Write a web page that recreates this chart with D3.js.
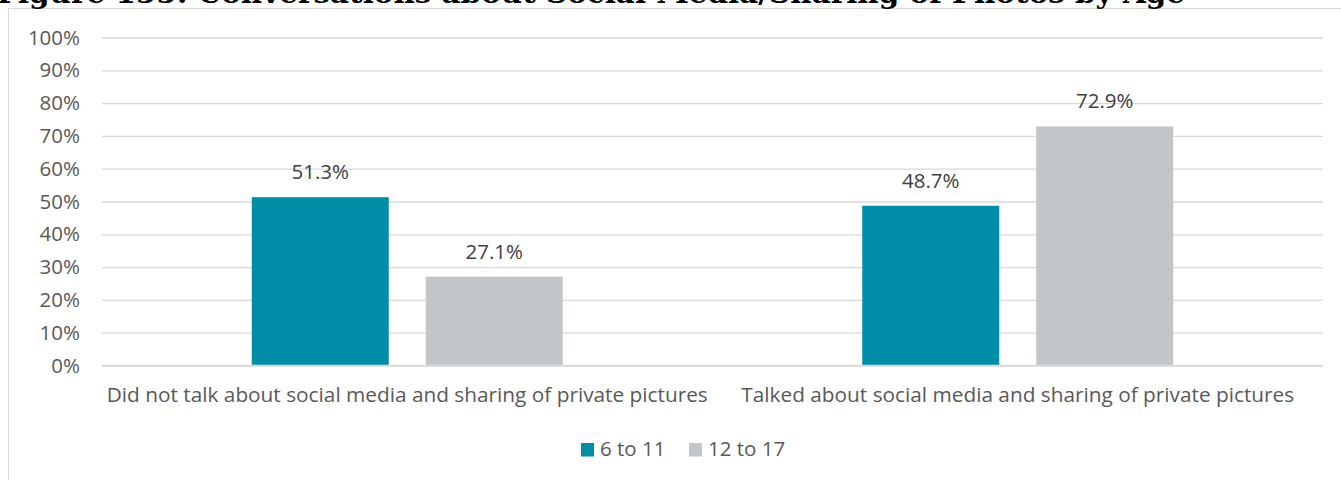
<!DOCTYPE html>
<html>
<head>
<meta charset="utf-8">
<script src="https://cdn.jsdelivr.net/npm/d3@7"></script>
<style>
  html, body { margin: 0; padding: 0; background: #ffffff; overflow: hidden; }
  svg { display: block; }
</style>
</head>
<body>
<svg id="chart" width="1341" height="480"></svg>
<script>
const titleText = "Figure 155: Conversations about Social Media/Sharing of Photos by Age";
const categories = [
  "Did not talk about social media and sharing of private pictures",
  "Talked about social media and sharing of private pictures"
];
const seriesNames = ["6 to 11", "12 to 17"];
const values6to11 = [51.3, 48.7];
const values12to17 = [27.1, 72.9];
const seriesColors = ["#008da8", "#c3c6c8"];
const yTicks = [0, 10, 20, 30, 40, 50, 60, 70, 80, 90, 100];

const seriesValues = [values6to11, values12to17];
const data = categories.map((c, i) => ({
  category: c,
  values: seriesNames.map((s, j) => ({ series: s, value: seriesValues[j][i] }))
}));

const svg = d3.select("#chart");
const W = 1341, H = 480;
const font = "'Open Sans', 'Liberation Sans', sans-serif";
const fs = 20.5;

// Frame
svg.append("rect")
  .attr("x", 8.5).attr("y", 8.5)
  .attr("width", W + 10).attr("height", H + 10)
  .attr("fill", "#ffffff").attr("stroke", "#d9d9d9").attr("stroke-width", 1);

// Title (cut off at the top, as in the source)
svg.append("text")
  .attr("x", -3).attr("y", 3)
  .attr("font-family", "'DejaVu Serif', 'Liberation Serif', serif")
  .attr("font-weight", "bold")
  .attr("font-size", 27)
  .attr("textLength", 1188)
  .attr("lengthAdjust", "spacingAndGlyphs")
  .attr("fill", "#000000")
  .text(titleText);

const plot = { left: 102, right: 1323, top: 37.5, bottom: 365.5 };

const y = d3.scaleLinear().domain([0, 100]).range([plot.bottom, plot.top]);
const x0 = d3.scaleBand().domain(categories)
  .range([plot.left, plot.right])
  .paddingInner(0.4906).paddingOuter(0.2453);
const x1 = d3.scaleBand().domain(seriesNames)
  .range([0, x0.bandwidth()])
  .paddingInner(0.2126).paddingOuter(0);
const color = d3.scaleOrdinal().domain(seriesNames).range(seriesColors);

// Gridlines + y labels
const yAxis = d3.axisLeft(y)
  .tickValues(yTicks)
  .tickSize(-(plot.right - plot.left))
  .tickPadding(22)
  .tickFormat(d => d + "%");
const gy = svg.append("g")
  .attr("transform", `translate(${plot.left},0)`)
  .call(yAxis);
gy.select(".domain").remove();
gy.selectAll(".tick line").attr("stroke", "#d9d9d9").attr("stroke-width", 1.3);
gy.selectAll(".tick text")
  .attr("font-family", font).attr("font-size", fs).attr("fill", "#595959");

// Bars
const groups = svg.append("g").selectAll("g")
  .data(data).join("g")
  .attr("transform", d => `translate(${x0(d.category)},0)`);

groups.selectAll("rect")
  .data(d => d.values).join("rect")
  .attr("x", d => x1(d.series))
  .attr("y", d => y(d.value))
  .attr("width", x1.bandwidth())
  .attr("height", d => y(0) - y(d.value))
  .attr("fill", d => color(d.series));

groups.selectAll("text.label")
  .data(d => d.values).join("text")
  .attr("class", "label")
  .attr("x", d => x1(d.series) + x1.bandwidth() / 2)
  .attr("y", d => y(d.value) - 18)
  .attr("text-anchor", "middle")
  .attr("font-family", font).attr("font-size", fs)
  .attr("fill", "#404040")
  .text(d => d.value.toFixed(1) + "%");

// Category axis labels
const xAxis = d3.axisBottom(x0).tickSize(0).tickPadding(22);
const gx = svg.append("g")
  .attr("transform", `translate(0,${plot.bottom})`)
  .call(xAxis);
gx.select(".domain").attr("stroke", "#d9d9d9").attr("stroke-width", 1.3)
  .attr("d", `M${plot.left},0H${plot.right}`);
gx.selectAll(".tick text")
  .attr("font-family", font).attr("font-size", 20.8).attr("fill", "#595959");

// Legend
const legend = svg.append("g").attr("transform", "translate(581,443)");
const legendX = [0, 108];
seriesNames.forEach((s, i) => {
  const g = legend.append("g").attr("transform", `translate(${legendX[i]},0)`);
  g.append("rect").attr("width", 13).attr("height", 13.5).attr("fill", color(s));
  g.append("text").attr("x", 19).attr("y", 13)
    .attr("font-family", font).attr("font-size", fs).attr("fill", "#595959")
    .text(s);
});
</script>
</body>
</html>
